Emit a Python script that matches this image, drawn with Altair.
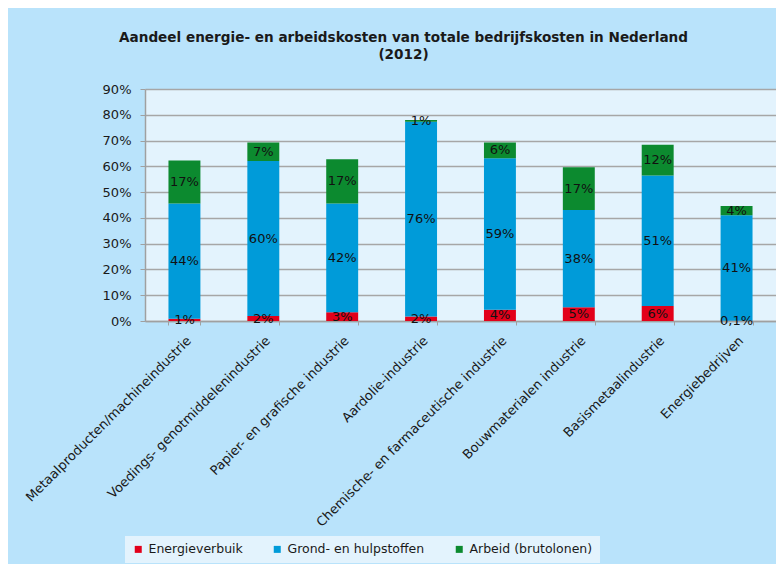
import altair as alt
import pandas as pd

categories = [
    "Metaalproducten/machineindustrie",
    "Voedings- genotmiddelenindustrie",
    "Papier- en grafische industrie",
    "Aardolie-industrie",
    "Chemische- en farmaceutische industrie",
    "Bouwmaterialen industrie",
    "Basismetaalindustrie",
    "Energiebedrijven",
]
series = ["Energieverbuik", "Grond- en hulpstoffen", "Arbeid (brutolonen)"]
energie = [0.9, 1.9, 3.4, 1.7, 4.4, 5.3, 5.8, 0.1]
grond = [44.7, 60.2, 42.2, 75.6, 58.7, 37.8, 50.6, 40.9]
arbeid = [16.7, 7.1, 17.1, 0.7, 6.1, 16.5, 12.0, 3.6]
energie_labels = ["1%", "2%", "3%", "2%", "4%", "5%", "6%", "0,1%"]
grond_labels = ["44%", "60%", "42%", "76%", "59%", "38%", "51%", "41%"]
arbeid_labels = ["17%", "7%", "17%", "1%", "6%", "17%", "12%", "4%"]
colors = ["#e2001a", "#009bd9", "#0c8a2f"]
y_ticks = [0, 10, 20, 30, 40, 50, 60, 70, 80, 90]

rows = []
for i, c in enumerate(categories):
    for k, (s, vals, labs) in enumerate(zip(series, [energie, grond, arbeid],
                                             [energie_labels, grond_labels, arbeid_labels])):
        rows.append({"cat": c, "series": s, "value": vals[i], "label": labs[i], "order": k})
df = pd.DataFrame(rows)

FONT = "DejaVu Sans"

base = alt.Chart(df).transform_stack(
    stack="value", groupby=["cat"], as_=["v0", "v1"], sort=[alt.SortField("order")]
).transform_calculate(mid="(datum.v0 + datum.v1) / 2")

x_scale = alt.Scale(paddingInner=0.595, paddingOuter=0.2975)
y_scale = alt.Scale(domain=[0, 90], nice=False)

x_axis = alt.Axis(labelAngle=-45, labelAlign="right", labelBaseline="top",
                  labelPadding=9, labelFontSize=13, labelFont=FONT, labelColor="#1a1a1a",
                  tickBand="extent", tickSize=4, tickColor="#a0a0a0", tickWidth=1,
                  domainColor="#a0a0a0", domainWidth=1.5, labelLimit=400)
y_axis = alt.Axis(values=y_ticks, labelExpr="datum.value + '%'",
                  labelFontSize=13, labelFont=FONT, labelColor="#1a1a1a",
                  labelPadding=9, tickSize=5, tickColor="#a0a0a0",
                  domainColor="#a0a0a0", domainWidth=1.5,
                  gridColor="#a6a6a6", gridWidth=1.5)

bars = base.mark_bar().encode(
    x=alt.X("cat:N", sort=categories, title=None, scale=x_scale, axis=x_axis),
    y=alt.Y("v0:Q", title=None, scale=y_scale, axis=y_axis),
    y2="v1:Q",
    color=alt.Color("series:N", sort=series,
                    scale=alt.Scale(domain=series, range=colors),
                    legend=alt.Legend(title=None, orient="none", direction="horizontal",
                                      legendX=-20, legendY=447,
                                      fillColor="#e3f3fd", padding=7,
                                      symbolType="square", symbolSize=49,
                                      symbolStrokeWidth=0,
                                      labelFontSize=12.5, labelFont=FONT,
                                      labelColor="#1a1a1a", columnPadding=28)),
    order=alt.Order("order:Q"),
)

labels = base.mark_text(fontSize=13, font=FONT, color="#111111", baseline="middle").encode(
    x=alt.X("cat:N", sort=categories, title=None, scale=x_scale, axis=x_axis),
    y=alt.Y("mid:Q", title=None, scale=y_scale, axis=y_axis),
    text="label:N",
)

chart = (bars + labels).properties(
    width=631,
    height=232,
    title=alt.TitleParams(
        ["Aandeel energie- en arbeidskosten van totale bedrijfskosten in Nederland", "(2012)"],
        font=FONT, fontSize=13.6, fontWeight="bold", color="#1a1a1a",
        anchor="middle", dx=-57, offset=21, lineHeight=17,
    ),
    autosize=alt.AutoSizeParams(type="none"),
    padding={"left": 137, "top": 81, "right": 0, "bottom": 243},
    background="#b9e3fb",
).configure_view(fill="#e3f3fd", stroke=None)

chart.save("out.html", embed_options={"renderer": "svg", "actions": False})
